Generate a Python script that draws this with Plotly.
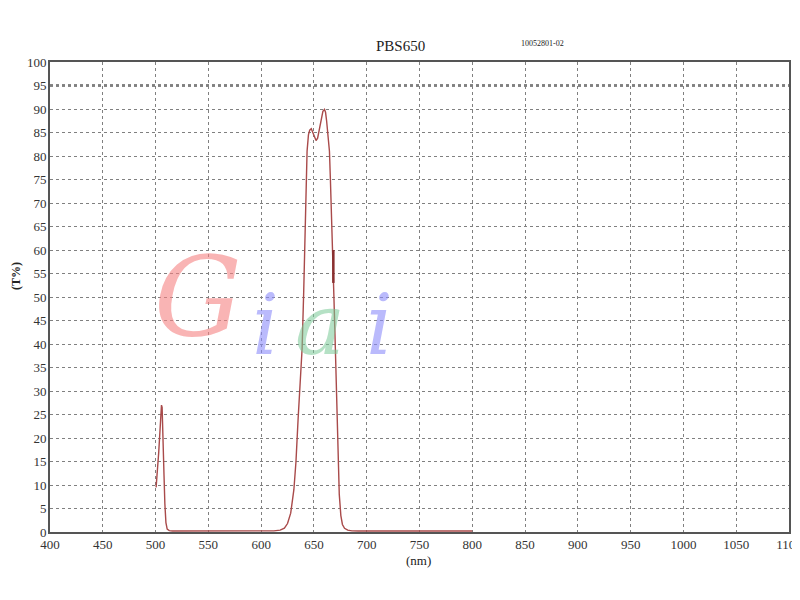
import plotly.graph_objects as go

# Transmission curve (wavelength nm, T%)
wavelength = [500.5, 501.2, 502, 503, 503.8, 504.8, 505.6, 506.2, 506.8, 507.3, 508, 508.8, 509.8, 511, 513, 516,
              560, 600, 612, 618, 622, 625, 628, 631, 633, 635, 637, 638.8, 640.3, 641.5, 642.6, 643.5, 644.8, 646,
              647.5, 649, 650.5, 652, 653.5, 655, 657, 658.5, 660, 661, 662, 663.3, 664.7, 665.6, 666.6, 667.6, 668.8,
              670.3, 671.5, 672.8, 674, 675.5, 677, 679, 682, 686, 692, 720, 760, 800]
transmission = [9.5, 11, 14, 17, 20, 24, 27, 26.5, 23, 19, 12, 6, 2, 0.6, 0.3, 0.2,
                0.2, 0.2, 0.25, 0.4, 0.8, 1.8, 4, 9, 15, 24, 32, 39, 51, 62, 73, 81, 84.5, 85.5,
                85.8, 85, 83.8, 83.3, 83.8, 85.5, 88, 89.5, 89.9, 89.3, 87.5, 84, 81, 75, 66, 58, 51,
                39, 28, 17, 8, 3.5, 1.6, 0.8, 0.4, 0.25, 0.2, 0.2, 0.2, 0.2]

# short overlapping segment on the falling edge
glitch_wl = [668.4, 668.4]
glitch_t = [60, 53]

x_ticks = list(range(400, 1101, 50))
y_ticks = list(range(0, 101, 5))

title_text = "PBS650"
code_text = "10052801-02"

line_col = "#a94a4a"
grid_col = "#808080"

# page body has an 8px offset; margins compensate so the plot lands at screen 49.5..789 x 62..532
OFF = 8
L, R, T, B = 42, 19, 54, 76
W, H = 800, 600

fig = go.Figure()
fig.add_trace(go.Scatter(x=wavelength, y=transmission, mode="lines",
                         line=dict(color=line_col, width=1.4), hoverinfo="skip"))
fig.add_trace(go.Scatter(x=glitch_wl, y=glitch_t, mode="lines",
                         line=dict(color="#8a3030", width=2.5), hoverinfo="skip"))

# emphasised 95% line
fig.add_shape(type="line", xref="paper", x0=0, x1=1, yref="y", y0=95, y1=95,
              line=dict(color="#111111", width=2, dash="dot"), layer="below")

serif = "Liberation Serif, Times New Roman, serif"

# watermark letters
wm = [("G", 540, 50, "rgba(245,130,130,0.6)", 110),
      ("i", 604, 44, "rgba(140,140,250,0.6)", 84),
      ("a", 656, 44, "rgba(120,200,150,0.55)", 84),
      ("i", 712, 44, "rgba(140,140,250,0.6)", 84)]
for ch, xx, yy, col, sz in wm:
    fig.add_annotation(x=xx, y=yy, xref="x", yref="y", text=ch, showarrow=False,
                       font=dict(family="DejaVu Serif", size=sz, color=col, style="italic"))

fig.update_layout(
    width=W, height=H,
    margin=dict(l=L, r=R, t=T, b=B, autoexpand=False),
    paper_bgcolor="white", plot_bgcolor="white",
    showlegend=False,
    font=dict(family=serif, size=13, color="#333333"),
    xaxis=dict(range=[400, 1100], tickvals=x_ticks, ticktext=[str(v) for v in x_ticks],
               showgrid=True, gridcolor=grid_col, griddash="dot", gridwidth=1,
               showline=True, linecolor="#555555", linewidth=2, mirror=True,
               zeroline=False, ticks="", ticklabelstandoff=-1, automargin=False,
               ticklabeloverflow="allow"),
    yaxis=dict(range=[0, 100], tickvals=y_ticks, ticktext=[str(v) for v in y_ticks],
               showgrid=True, gridcolor=grid_col, griddash="dot", gridwidth=1,
               showline=True, linecolor="#555555", linewidth=2, mirror=True,
               zeroline=False, ticks="", ticklabelstandoff=-1, automargin=False,
               ticklabeloverflow="allow"),
)

def px_ann(text, px, py, size, **kw):
    # px, py are screen pixel positions of the text centre
    xp = (px - OFF - L) / (W - L - R)
    yp = (H - B - (py - OFF)) / (H - T - B)
    fig.add_annotation(x=xp, y=yp, xref="paper", yref="paper", text=text, showarrow=False,
                       xanchor="center", yanchor="middle",
                       font=dict(family=serif, size=size, color="#222222"), **kw)

px_ann(title_text, 400, 46, 15)
px_ann(code_text, 542, 43, 8)
px_ann("(nm)", 418, 560, 13)
px_ann("<b>(T%)</b>", 16, 276, 12, textangle=-90)

fig.write_html("out.html")
